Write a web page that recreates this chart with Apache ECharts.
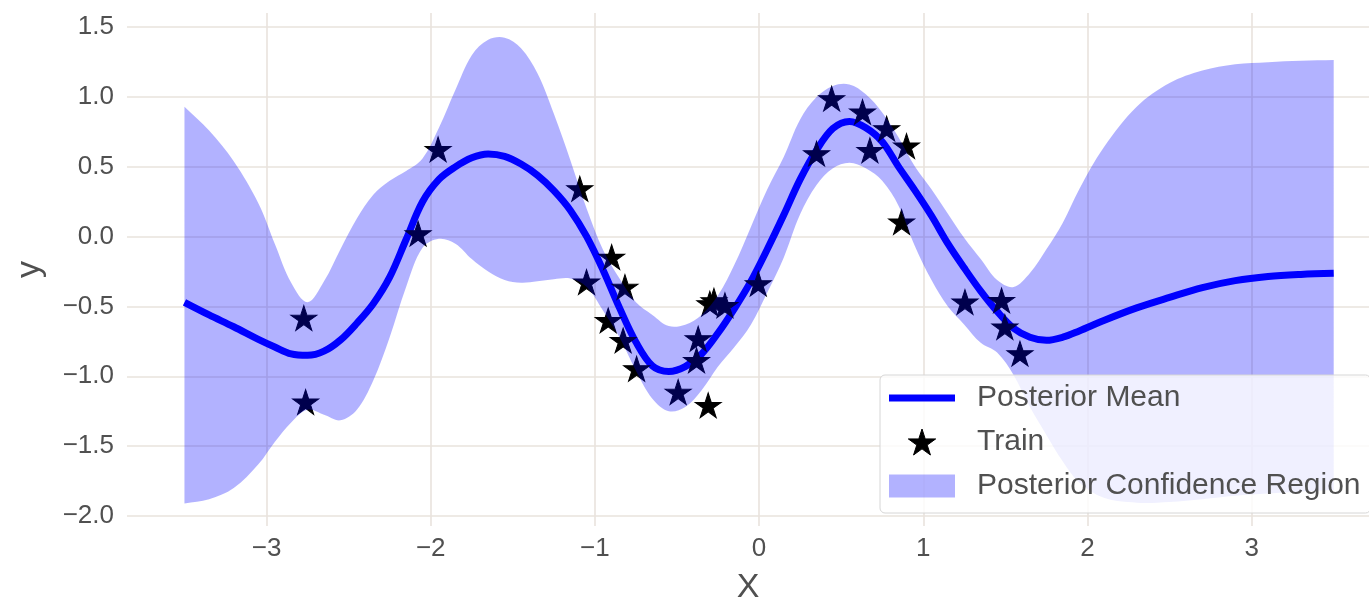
<!DOCTYPE html>
<html>
<head>
<meta charset="utf-8">
<title>GP posterior</title>
<script src="https://cdn.jsdelivr.net/npm/echarts@6/dist/echarts.min.js"></script>
<style>
  html, body { margin: 0; padding: 0; background: #fff; }
  #chart { width: 1369px; height: 599px; }
</style>
</head>
<body>
<div id="chart"></div>
<script>
// test inputs where the posterior was evaluated
var xGrid = [-3.5, -3.35, -3.2, -3.05, -2.95, -2.85, -2.75, -2.65, -2.55, -2.45, -2.35, -2.25, -2.15, -2.05,
  -1.95, -1.85, -1.75, -1.65, -1.55, -1.45, -1.35, -1.25, -1.15, -1.05, -0.95, -0.85, -0.75, -0.65,
  -0.55, -0.45, -0.35, -0.25, -0.15, -0.05, 0.05, 0.15, 0.25, 0.35, 0.45, 0.55, 0.65, 0.75, 0.85,
  0.95, 1.05, 1.15, 1.25, 1.35, 1.45, 1.55, 1.65, 1.75, 1.85, 1.95, 2.1, 2.3, 2.5, 2.7, 2.9, 3.1, 3.3, 3.5];

var meanY = [-0.47, -0.56, -0.645, -0.735, -0.79, -0.84, -0.85, -0.82, -0.74, -0.62, -0.48, -0.29, -0.02, 0.25,
  0.41, 0.50, 0.565, 0.592, 0.575, 0.52, 0.44, 0.33, 0.19, 0.0, -0.24, -0.51, -0.755, -0.925,
  -0.965, -0.93, -0.84, -0.69, -0.515, -0.32, -0.09, 0.155, 0.41, 0.62, 0.775, 0.825, 0.78, 0.68, 0.50,
  0.33, 0.15, -0.05, -0.225, -0.39, -0.535, -0.655, -0.72, -0.742, -0.72, -0.675, -0.6, -0.51, -0.435, -0.365, -0.315, -0.285, -0.27, -0.262];

var upperY = [0.93, 0.76, 0.54, 0.24, -0.05, -0.33, -0.47, -0.32, -0.09, 0.13, 0.30, 0.40, 0.47, 0.56,
  0.78, 1.05, 1.30, 1.41, 1.425, 1.35, 1.17, 0.88, 0.55, 0.2, -0.095, -0.30, -0.47, -0.56,
  -0.64, -0.63, -0.56, -0.42, -0.2, 0.07, 0.34, 0.57, 0.84, 1.00, 1.08, 1.09, 1.02, 0.89, 0.71,
  0.50, 0.34, 0.165, -0.01, -0.16, -0.31, -0.36, -0.26, -0.09, 0.10, 0.34, 0.64, 0.93, 1.10, 1.19, 1.235, 1.25, 1.26, 1.265];

var lowerY = [-1.91, -1.88, -1.80, -1.63, -1.47, -1.33, -1.24, -1.275, -1.315, -1.24, -1.03, -0.72, -0.36, -0.08,
  -0.015, -0.05, -0.16, -0.25, -0.31, -0.33, -0.32, -0.305, -0.30, -0.36, -0.53, -0.72, -0.96, -1.16,
  -1.25, -1.22, -1.10, -0.93, -0.79, -0.63, -0.40, -0.15, 0.16, 0.37, 0.49, 0.53, 0.49, 0.40, 0.22,
  -0.07, -0.31, -0.50, -0.63, -0.76, -0.83, -0.99, -1.22, -1.42, -1.61, -1.76, -1.87, -1.905, -1.90, -1.88, -1.855, -1.84, -1.825, -1.815];

// training points
var trainX = [-2.773, -2.762, -2.077, -1.955, -1.092, -1.051, -0.898, -0.817, -0.919, -0.828, -0.746, -0.493,
  -0.381, -0.371, -0.310, -0.300, -0.275, -0.208, -0.005, 0.350, 0.442, 0.630, 0.777, 0.675, 0.898, 0.868,
  1.254, 1.477, 1.497, 1.589];
var trainY = [-0.592, -1.193, 0.012, 0.616, 0.334, -0.334, -0.155, -0.370, -0.609, -0.752, -0.955, -1.122,
  -0.895, -0.740, -1.217, -0.489, -0.468, -0.501, -0.346, 0.585, 0.979, 0.884, 0.764, 0.609, 0.640, 0.096,
  -0.477, -0.466, -0.656, -0.847];

var seriesNames = ['Posterior Mean', 'Train', 'Posterior Confidence Region'];

var STAR = 'path://M100,0L122.45,69.1L195.11,69.1L136.33,111.8L158.78,180.9L100,138.2L41.22,180.9L63.67,111.8L4.89,69.1L77.55,69.1Z';
var FONT = 'Liberation Sans';
var TEXT = '#505050';
var GRID = '#e9e3dd';
var BAND = 'rgba(0,0,255,0.3)';
var SMOOTH = 0.35;

function pairs(xs, ys) {
  return xs.map(function(x, i) { return [x, ys[i]]; });
}

// matplotlib style minus sign, and hide labels that are not on the step
function tickFmt(step, digits) {
  return function(v) {
    var k = v / step;
    if (Math.abs(k - Math.round(k)) > 1e-6) return '';
    var s = Math.abs(v).toFixed(digits);
    return (v < -1e-9 ? '\u2212' : '') + s;
  };
}

// bezier segments through pixel points (same idea as zrender smoothBezier, open curve)
function curveTo(pts) {
  var cps = [];
  var n = pts.length;
  for (var i = 0; i < n; i++) {
    var p = pts[i];
    var prev = pts[i > 0 ? i - 1 : i];
    var next = pts[i < n - 1 ? i + 1 : i];
    var vx = next[0] - prev[0], vy = next[1] - prev[1];
    var d0 = Math.hypot(p[0] - prev[0], p[1] - prev[1]);
    var d1 = Math.hypot(next[0] - p[0], next[1] - p[1]);
    var sum = d0 + d1 || 1;
    d0 /= sum; d1 /= sum;
    cps.push([[p[0] - vx * SMOOTH * d0, p[1] - vy * SMOOTH * d0], [p[0] + vx * SMOOTH * d1, p[1] + vy * SMOOTH * d1]]);
  }
  var d = '';
  for (var j = 0; j < n - 1; j++) {
    var a = cps[j][1], b = cps[j + 1][0], q = pts[j + 1];
    d += 'C' + a[0].toFixed(2) + ',' + a[1].toFixed(2) + ' ' + b[0].toFixed(2) + ',' + b[1].toFixed(2) +
      ' ' + q[0].toFixed(2) + ',' + q[1].toFixed(2);
  }
  return d;
}

// fill between lower and upper
function renderBand(params, api) {
  var up = [], lo = [];
  for (var i = 0; i < xGrid.length; i++) {
    up.push(api.coord([xGrid[i], upperY[i]]));
    lo.push(api.coord([xGrid[i], lowerY[i]]));
  }
  lo.reverse();
  var d = 'M' + up[0][0] + ',' + up[0][1] + curveTo(up) +
    'L' + lo[0][0] + ',' + lo[0][1] + curveTo(lo) + 'Z';
  return {
    type: 'path',
    shape: { pathData: d },
    style: { fill: BAND }
  };
}

var chart = echarts.init(document.getElementById('chart'));

var option = {
  animation: false,
  backgroundColor: '#fff',
  grid: { left: 127, right: 0, top: 13, bottom: 73, outerBoundsMode: 'none' },
  xAxis: {
    type: 'value',
    min: -3.85,
    max: 3.715,
    minInterval: 1,
    maxInterval: 1,
    axisLine: { show: false },
    axisTick: { show: false },
    splitLine: { show: true, showMinLine: false, showMaxLine: false, lineStyle: { color: GRID, width: 1.6 } },
    axisLabel: { fontSize: 26, color: TEXT, fontFamily: FONT, margin: 10, formatter: tickFmt(1, 0) },
    name: 'X',
    nameLocation: 'middle',
    nameGap: 45,
    nameTextStyle: { fontSize: 34, color: TEXT, fontFamily: FONT }
  },
  yAxis: {
    type: 'value',
    min: -2.072,
    max: 1.602,
    minInterval: 0.5,
    maxInterval: 0.5,
    axisLine: { show: false },
    axisTick: { show: false },
    splitLine: { show: true, showMinLine: false, showMaxLine: false, lineStyle: { color: GRID, width: 1.6 } },
    axisLabel: { fontSize: 26, color: TEXT, fontFamily: FONT, margin: 13, formatter: tickFmt(0.5, 1) },
    name: 'y',
    nameLocation: 'middle',
    nameGap: 80,
    nameTextStyle: { fontSize: 34, color: TEXT, fontFamily: FONT }
  },
  legend: {
    orient: 'vertical',
    left: 880,
    top: 375,
    z: 10,
    padding: [8, 10, 12, 9],
    itemGap: 14,
    itemWidth: 66,
    itemHeight: 26,
    selectedMode: false,
    backgroundColor: 'rgba(255,255,255,0.8)',
    borderColor: '#d6d6d6',
    borderWidth: 1,
    borderRadius: 5,
    textStyle: { fontSize: 30, color: TEXT, fontFamily: FONT, padding: [0, 0, 0, 17] },
    data: [
      { name: seriesNames[0], icon: 'path://M0,0H66V7H0Z', itemStyle: { color: '#0000ff', borderWidth: 0 } },
      { name: seriesNames[1], icon: STAR, itemStyle: { color: '#000', borderColor: '#000', borderWidth: 1, opacity: 1 } },
      { name: seriesNames[2], icon: 'path://M0,0H63V22H0Z', itemStyle: { color: BAND, borderWidth: 0, opacity: 1 } }
    ]
  },
  series: [
    {
      name: seriesNames[1],
      type: 'scatter',
      z: 2,
      data: pairs(trainX, trainY),
      symbol: STAR,
      symbolSize: [26, 24.7],
      symbolOffset: [0, -1.3],
      itemStyle: { color: '#000', borderColor: '#000', borderWidth: 1, opacity: 1 }
    },
    {
      name: seriesNames[0],
      type: 'line',
      z: 2,
      data: pairs(xGrid, meanY),
      smooth: SMOOTH,
      symbol: 'none',
      lineStyle: { color: '#0000ff', width: 7 }
    },
    {
      name: seriesNames[2],
      type: 'custom',
      z: 3,
      data: [[0, 0]],
      renderItem: renderBand,
      silent: true,
      itemStyle: { color: BAND }
    }
  ]
};

chart.setOption(option);
</script>
</body>
</html>
